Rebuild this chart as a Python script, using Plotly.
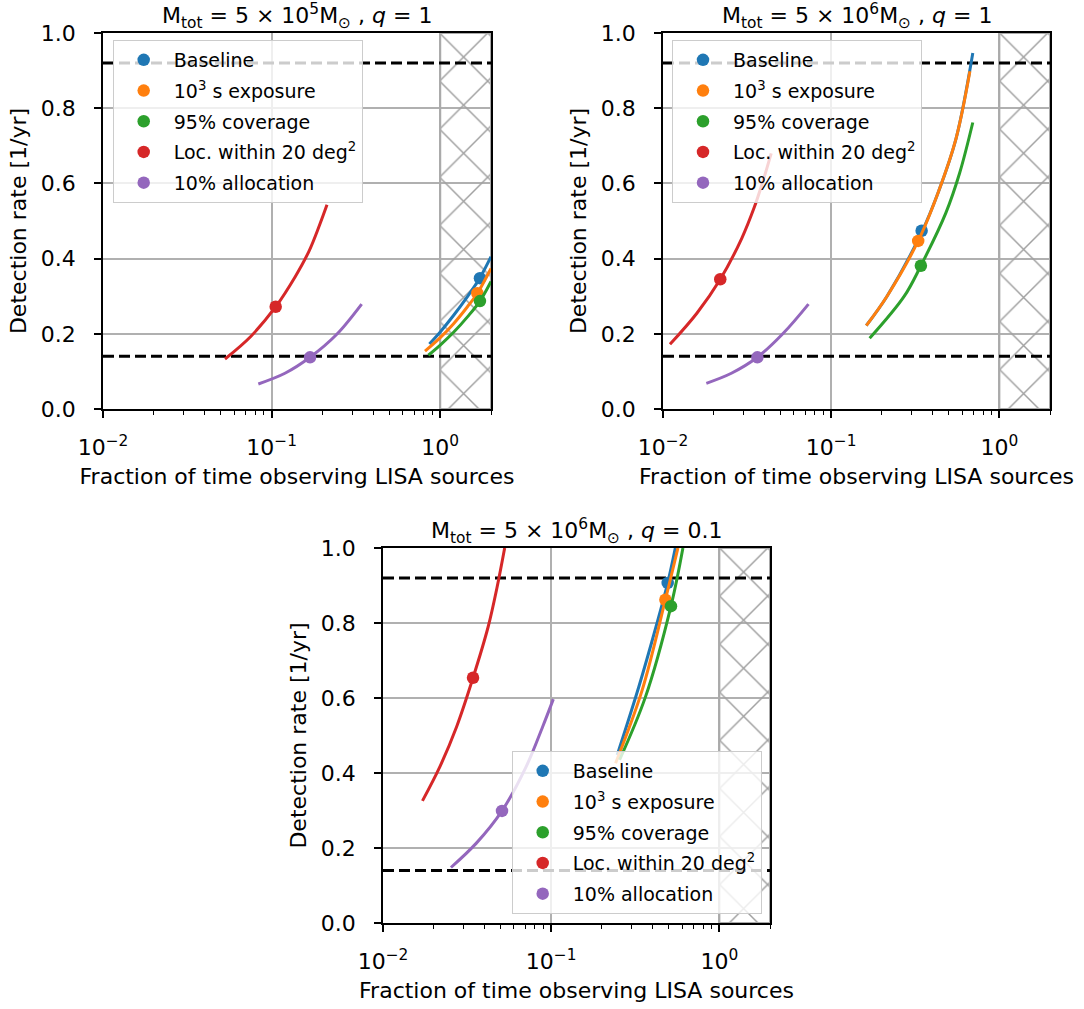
import numpy as np
import plotly.graph_objects as go

W, H = 1084, 1009
FONT = "DejaVu Sans"

# ---------------- data ----------------
series_names = ["Baseline", "10<sup>3</sup> s exposure", "95% coverage",
                "Loc. within 20 deg<sup>2</sup>", "10% allocation"]
series_colors = ["#1f77b4", "#ff7f0e", "#2ca02c", "#d62728", "#9467bd"]

panel_titles = [
    "M<sub>tot</sub> = 5 × 10<sup>5</sup>M<sub>⊙</sub> , <i>q</i> = 1",
    "M<sub>tot</sub> = 5 × 10<sup>6</sup>M<sub>⊙</sub> , <i>q</i> = 1",
    "M<sub>tot</sub> = 5 × 10<sup>6</sup>M<sub>⊙</sub> , <i>q</i> = 0.1",
]
thresholds = [0.92, 0.14]
excluded_x = [1.0, 2.0]          # hatched region (fraction > 1)
x_range = [0.01, 2.0]
y_range = [0.0, 1.0]
x_tickvals = [0.01, 0.1, 1.0]
x_ticktext = ["10<sup>−2</sup>", "10<sup>−1</sup>", "10<sup>0</sup>"]
y_tickvals = [0.0, 0.2, 0.4, 0.6, 0.8, 1.0]

# Panel A: Mtot = 5e5, q = 1
a_base_x = [0.862, 1.0, 1.195, 1.45, 1.72, 2.0]
a_base_y = [0.173, 0.205, 0.248, 0.299, 0.349, 0.405]
a_expo_x = [0.812, 1.0, 1.2, 1.45, 1.66, 2.0]
a_expo_y = [0.154, 0.190, 0.227, 0.272, 0.308, 0.374]
a_cov_x = [0.85, 1.0, 1.2, 1.45, 1.72, 2.0]
a_cov_y = [0.143, 0.170, 0.204, 0.245, 0.287, 0.339]
a_loc_x = [0.0529, 0.0752, 0.1057, 0.138, 0.1667, 0.192, 0.213]
a_loc_y = [0.133, 0.193, 0.272, 0.352, 0.420, 0.488, 0.543]
a_alloc_x = [0.0834, 0.120, 0.169, 0.2427, 0.342]
a_alloc_y = [0.0666, 0.095, 0.1375, 0.198, 0.279]
a_pts_x = [1.72, 1.66, 1.72, 0.1057, 0.169]
a_pts_y = [0.348, 0.308, 0.287, 0.272, 0.1375]

# Panel B: Mtot = 5e6, q = 1
b_base_x = [0.1617, 0.2148, 0.345, 0.436, 0.553, 0.695]
b_base_y = [0.222, 0.300, 0.470, 0.580, 0.720, 0.947]
b_expo_x = [0.1617, 0.2148, 0.329, 0.436, 0.553, 0.668]
b_expo_y = [0.222, 0.300, 0.447, 0.580, 0.720, 0.898]
b_cov_x = [0.1693, 0.272, 0.3414, 0.48, 0.58, 0.695]
b_cov_y = [0.188, 0.300, 0.381, 0.521, 0.627, 0.762]
b_loc_x = [0.011, 0.0159, 0.0219, 0.0294, 0.0348, 0.0391, 0.044]
b_loc_y = [0.172, 0.2547, 0.345, 0.454, 0.535, 0.603, 0.680]
b_alloc_x = [0.0181, 0.0255, 0.0364, 0.0519, 0.0733]
b_alloc_y = [0.0683, 0.095, 0.1375, 0.2014, 0.279]
b_pts_x = [0.345, 0.329, 0.3414, 0.0219, 0.0364]
b_pts_y = [0.474, 0.447, 0.381, 0.345, 0.1375]

# Panel C: Mtot = 5e6, q = 0.1
c_base_x = [0.247, 0.332, 0.42, 0.493, 0.547]
c_base_y = [0.448, 0.630, 0.790, 0.907, 1.0]
c_expo_x = [0.2414, 0.3475, 0.4775, 0.567]
c_expo_y = [0.426, 0.621, 0.862, 1.0]
c_cov_x = [0.255, 0.3636, 0.5155, 0.607]
c_cov_y = [0.435, 0.603, 0.845, 1.0]
c_loc_x = [0.01716, 0.0218, 0.0274, 0.0343, 0.0422, 0.0477, 0.0529]
c_loc_y = [0.3256, 0.417, 0.5235, 0.654, 0.790, 0.896, 1.0]
c_alloc_x = [0.02535, 0.0359, 0.0510, 0.071, 0.089, 0.103]
c_alloc_y = [0.148, 0.213, 0.299, 0.417, 0.5235, 0.597]
c_pts_x = [0.493, 0.4775, 0.5155, 0.0343, 0.051]
c_pts_y = [0.907, 0.862, 0.845, 0.654, 0.299]

panels = [
    dict(curves=[(a_base_x, a_base_y), (a_expo_x, a_expo_y), (a_cov_x, a_cov_y),
                 (a_loc_x, a_loc_y), (a_alloc_x, a_alloc_y)],
         pts=(a_pts_x, a_pts_y)),
    dict(curves=[(b_base_x, b_base_y), (b_expo_x, b_expo_y), (b_cov_x, b_cov_y),
                 (b_loc_x, b_loc_y), (b_alloc_x, b_alloc_y)],
         pts=(b_pts_x, b_pts_y)),
    dict(curves=[(c_base_x, c_base_y), (c_expo_x, c_expo_y), (c_cov_x, c_cov_y),
                 (c_loc_x, c_loc_y), (c_alloc_x, c_alloc_y)],
         pts=(c_pts_x, c_pts_y)),
]

# ---------------- layout geometry ----------------
x_domains = [[103 / W, 491 / W], [663 / W, 1050 / W], [383 / W, 770 / W]]
y_domains = [[1 - 409 / H, 1 - 33 / H], [1 - 409 / H, 1 - 33 / H], [1 - 923 / H, 1 - 548 / H]]
legend_ids = ["legend", "legend2", "legend3"]
legend_pos = [
    dict(x=112.7 / W, y=1 - 40 / H, xanchor="left", yanchor="top"),
    dict(x=672 / W, y=1 - 40 / H, xanchor="left", yanchor="top"),
    dict(x=761.7 / W, y=1 - 914 / H, xanchor="right", yanchor="bottom"),
]

fig = go.Figure()

for p, panel in enumerate(panels):
    xa = "x" if p == 0 else f"x{p + 1}"
    ya = "y" if p == 0 else f"y{p + 1}"
    # hatched excluded region
    fig.add_trace(go.Scatter(
        x=[excluded_x[0], excluded_x[1], excluded_x[1], excluded_x[0], excluded_x[0]],
        y=[y_range[0], y_range[0], y_range[1], y_range[1], y_range[0]],
        mode="lines", fill="toself", fillcolor="rgba(0,0,0,0)",
        fillpattern=dict(shape="x", fgcolor="#a0a0a0", bgcolor="rgba(0,0,0,0)",
                         size=34, solidity=0.085),
        line=dict(color="#aaaaaa", width=2),
        hoverinfo="skip", showlegend=False, xaxis=xa, yaxis=ya))
    # threshold dashed lines
    for t in thresholds:
        fig.add_trace(go.Scatter(
            x=x_range, y=[t, t], mode="lines",
            line=dict(color="black", width=3, dash="11px,5px"),
            hoverinfo="skip", showlegend=False, xaxis=xa, yaxis=ya))
    # curves and operating points
    px, py = panel["pts"]
    for s, (cx, cy) in enumerate(panel["curves"]):
        fig.add_trace(go.Scatter(
            x=cx, y=cy, mode="lines",
            line=dict(color=series_colors[s], width=3, shape="spline", smoothing=1.0),
            showlegend=False, xaxis=xa, yaxis=ya))
        fig.add_trace(go.Scatter(
            x=[px[s]], y=[py[s]], mode="markers", name=series_names[s],
            marker=dict(color=series_colors[s], size=12.5, line=dict(width=0)),
            legend=legend_ids[p], legendgroup=f"p{p}s{s}",
            showlegend=True, xaxis=xa, yaxis=ya))

tick_font = dict(family=FONT, size=22, color="black")
x_minor = [k * 10.0 ** e for e in (-2, -1) for k in range(2, 10)] + [2.0]

layout = dict(
    width=W, height=H, margin=dict(l=0, r=0, t=0, b=0, autoexpand=False),
    template="none",
    paper_bgcolor="white", plot_bgcolor="white",
    font=dict(family=FONT, color="black"),
    annotations=[],
)

for p in range(3):
    xk = "xaxis" if p == 0 else f"xaxis{p + 1}"
    yk = "yaxis" if p == 0 else f"yaxis{p + 1}"
    xa = "x" if p == 0 else f"x{p + 1}"
    ya = "y" if p == 0 else f"y{p + 1}"
    layout[xk] = dict(
        domain=x_domains[p], anchor=ya, type="log", automargin=False,
        range=[np.log10(x_range[0]), np.log10(x_range[1])],
        tickmode="array", tickvals=x_tickvals, ticktext=x_ticktext,
        ticks="outside", ticklen=7, tickwidth=1.7, tickcolor="black",
        ticklabelstandoff=11,
        minor=dict(tickvals=x_minor, ticks="outside", ticklen=4, tickwidth=1.3,
                   tickcolor="black", showgrid=False),
        showgrid=True, gridcolor="#b0b0b0", gridwidth=1.6,
        showline=True, mirror=True, linecolor="black", linewidth=1.8,
        zeroline=False, tickfont=tick_font,
        title=dict(text="Fraction of time observing LISA sources", font=tick_font, standoff=9),
    )
    layout[yk] = dict(
        domain=y_domains[p], anchor=xa, range=y_range, automargin=False,
        tickmode="array", tickvals=y_tickvals, tickformat=".1f",
        ticks="outside", ticklen=7, tickwidth=1.7, tickcolor="black",
        ticklabelstandoff=14,
        showgrid=True, gridcolor="#b0b0b0", gridwidth=1.6,
        showline=True, mirror=True, linecolor="black", linewidth=1.8,
        zeroline=False, tickfont=tick_font,
        title=dict(text="Detection rate [1/yr]", font=tick_font, standoff=8),
    )
    layout[legend_ids[p]] = dict(
        **legend_pos[p],
        bgcolor="rgba(255,255,255,0.8)", bordercolor="#cccccc", borderwidth=1,
        font=dict(family=FONT, size=19, color="black"),
        itemwidth=50, tracegroupgap=3, traceorder="grouped",
    )
    layout["annotations"].append(dict(
        text=panel_titles[p], xref="paper", yref="paper",
        x=(x_domains[p][0] + x_domains[p][1]) / 2, y=y_domains[p][1],
        xanchor="center", yanchor="bottom", yshift=-1, showarrow=False,
        font=dict(family=FONT, size=22, color="black"),
    ))

fig.update_layout(**layout)
fig.write_html("out.html")
